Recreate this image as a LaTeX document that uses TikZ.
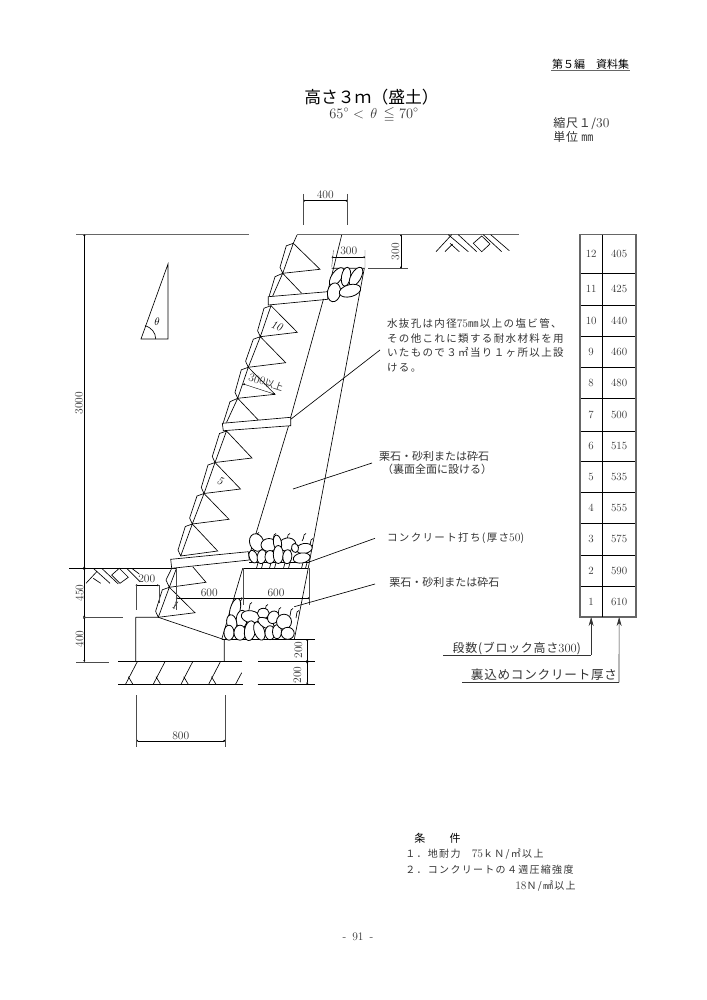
\documentclass[tikz,border=0pt]{standalone}
\usepackage{amssymb}
\usepackage{amsmath}
\usepackage{fontspec}
\newfontfamily\jp{Noto Sans CJK JP}
\newfontfamily\jps[LetterSpace=6]{Noto Sans CJK JP}
\newfontfamily\jpw[LetterSpace=13]{Noto Sans CJK JP}
\usetikzlibrary{positioning}
\usetikzlibrary{arrows.meta}
\tikzset{>={Stealth[length=9pt,width=5pt]}}
\tikzset{thick line/.style={black!60,line width=1.1pt}}
\tikzset{dimline/.style={line width=0.4pt,{Circle[length=1.8pt]}-{Circle[length=1.8pt]}}}
\tikzset{ext/.style={line width=0.4pt,black!70}}
\tikzset{ed/.style={inner sep=0pt,font=\fontsize{11.5}{12}\selectfont,text=black!80}}
\tikzset{no/.style={inner sep=0pt,rotate=-20,font=\itshape\fontsize{11.5}{12}\selectfont}}
\tikzset{note/.style={inner sep=0pt,anchor=west,align=left,text=black!80,font=\jpw\fontsize{10.5}{14.7}\selectfont}}
\tikzset{cond/.style={inner sep=0pt,anchor=west,text=black!80,font=\jpw\fontsize{10}{12}\selectfont}}
\tikzset{stone/.style={draw,fill=white,line width=0.8pt}}
\tikzset{cell/.style={draw,line width=0.5pt,inner sep=0pt,outer sep=0pt,text=black!80,font=\fontsize{11}{12}\selectfont}}
\newcommand{\dg}[1]{{\rmfamily\fontsize{11.5}{12}\selectfont #1}}

\begin{document}
\begin{tikzpicture}[x=1pt,y=-1pt,line width=0.65pt]
        \useasboundingbox (0,0) rectangle (706,1000);

        \node[inner sep=0pt,font=\jp\fontsize{11}{12}\selectfont] (part) at (590.5,64.5) {第５編　資料集};
        \coordinate (partL) at (551,70.5);
        \coordinate (partR) at (630,70.5);
        \draw[thick line,line width=0.8pt] (partL) -- (partR);

        \node[inner sep=0pt,font=\jp\fontsize{16.8}{18}\selectfont] (title) at (371.5,97.5) {高さ３ｍ（盛土）};
        \node[inner sep=0pt,font=\fontsize{14.5}{16}\selectfont,text=black!80] (range) at (374,114.5) {$65^{\circ}<\,\theta\,\leqq 70^{\circ}$};
        \node[note,font=\jps\fontsize{12}{14}\selectfont] (scale) at (553,129.5) {縮尺１/{\rmfamily\fontsize{13.5}{14}\selectfont 30}\\単位 ㎜};

        \draw[thick line] (76,234.6) -- (249,234.6);
        \draw[thick line] (297,234.6) -- (519,234.6);
        \draw[thick line,line width=0.7pt,black] (69.3,568.3) -- (176.7,568.3);

        \draw (436,251.7) -- (451.7,234.7) (445,251.7) -- (452.7,244) (448.3,234.7) -- (468.3,251.7) (450,243.3) -- (459.3,251.7);
        \draw (458.3,234.7) -- (476.7,251.7) (473.3,243.3) -- (481.7,236) -- (490,244) -- (481.7,251.7) -- cycle (483.3,234.7) -- (501.7,251.7) (490.7,234.7) -- (509.3,250.7);

        \draw (96.7,571.7) -- (86,583.3) (93.3,578.3) -- (100.7,583.3) (93.3,568.3) -- (110,583.3) (101.7,568.3) -- (118.3,584);
        \draw (119.3,568.3) -- (128.3,577.3) -- (120,583.3) -- (111.7,575) -- cycle (126.7,568.3) -- (140,581.7) (131.7,568.3) -- (139.3,574);

        \draw (168,264) -- (168,339) -- (141,339) -- cycle;
        \draw (145,325.5) to[out=-20,in=90] (155.7,339);
        \node[inner sep=0pt,font=\fontsize{11}{12}\selectfont] (theta) at (157,322) {$\theta$};

        \foreach \tx/\ty/\px/\py/\qx/\qy in {
                293.3/243.3/282.7/273.3/320/269.3,
                271/305.7/260.3/336.7/297.3/332.3,
                260.3/336.7/248.3/367.3/285.7/362.7,
                248.3/367.3/237.7/398.3/275/394.3,
                226.5/431/215/462.5/252/458,
                215/462.5/204/493.5/240.5/489,
                204/493.5/192.3/524/229/519.3,
                192.3/524/180.7/556/217.7/551,
                169.3/587.3/158.3/617.3/195/612.7} {
                \draw (\tx,\ty) -- ++(-7,2.5) -- ({\px-2.7},{\py-6}) -- (\px,\py) -- (\qx,\qy) -- (\tx,\ty) -- (\px,\py);
        }

        \draw (297,235) -- (293.3,243.3);
        \draw (282.7,273.3) -- (275,276.7) -- (269,296.7) (282.7,273.3) -- (272.5,296.4) (282.7,273.3) -- (301.7,293.3);
        \draw (237.7,398.3) -- (230,401.7) -- (223.3,422.7) (237.7,398.3) -- (226.5,422.5) (237.7,398.3) -- (258.3,420);
        \draw (171.7,568.3) -- (166,580) -- (169.3,587.3) -- (206,582.3) -- (192.7,566.7) (176.7,567.8) -- (169.3,587.3);

        \draw[fill=white] (268.3,296.7) -- (327.7,291.7) -- (327.7,299.3) -- (268.3,305) -- cycle;
        \draw[fill=white] (222.3,423.3) -- (290.7,417.3) -- (290.7,425.7) -- (223.3,430.7) -- cycle;
        \draw[fill=white] (170.7,559.3) -- (248.3,551.7) -- (249.3,560) -- (171.7,568.3) -- cycle;

        \node[no] (no10) at (276.7,325.7) {10};
        \node[no] (no5) at (220,481) {5};
        \node[no] (no1) at (175,605) {1};

        \draw (341.7,235) -- (327.7,291.7) (323.5,299) -- (290.7,417.3) (288.5,426) -- (250.5,551.7) (242.7,568.3) -- (221.7,639.3);
        \draw (331.7,268.3) -- (364.3,268.3) -- (308.3,568) -- (294.3,639.3);
        \draw (249.3,562.7) -- (309.3,562.7) (242.7,568.3) -- (308.3,568.3);
        \draw (221.7,639.3) -- (315,639.3);

        \foreach \sx/\sy/\rx/\ry/\ang in {
                336.7/276.7/10.5/5/55, 346/276.7/9.5/4.5/80, 356/276.7/10.5/5/60,
                334/292.3/9.5/6.5/80, 350/290.7/11/6/15} {
                \draw[stone] (\sx,\sy) ellipse[x radius=\rx,y radius=\ry,rotate=\ang];
        }

        \foreach \sx/\sy in {257/534,274/535,288/535,304/535,311/540} {
                \draw (\sx,\sy) to[bend left=15] ++(-2,6) (\sx,\sy) -- ++(2,-1.5);
        }
        \foreach \sx/\sy/\rx/\ry/\ang in {
                256.7/542.5/9/7/110, 269/545/8/6.5/0, 287.3/544.5/8.5/6.5/10, 304.3/548.5/8/5/10, 295/548/4.5/3.5/100,
                277.5/543/8/4/100, 253.3/556.7/6.5/4/110, 261.7/556.7/7/4.5/80, 270/557/6.5/5/90, 278.3/554.5/9/5/90,
                287.3/556.7/7/4.5/85, 301.7/558/8.5/5/10} {
                \draw[stone] (\sx,\sy) ellipse[x radius=\rx,y radius=\ry,rotate=\ang];
        }

        \foreach \sx in {258,263,271,276,285,290,303,307} {
                \draw (\sx,562.7) -- ({\sx-1.5},568.3);
        }

        \foreach \sx/\sy in {240/601,250/604,266/606,279/609,291/610,297/612} {
                \draw (\sx,\sy) to[bend left=15] ++(-1,6) (\sx,\sy) -- ++(2,-1.5);
        }
        \foreach \sx/\sy/\rx/\ry/\ang in {
                235/610/12/5/75, 241.7/619.3/9/5.5/85, 231.7/622.7/8/5/100, 229/632.7/7.5/5/90, 240/632.7/7.5/6/90,
                250.7/616.7/9.5/6/-10, 250/630.7/10/5.5/80, 259.3/631/9.5/5/110, 263.3/613.3/6/5/0, 266/623.3/9/4.5/-30,
                270/632.7/7/5/90, 277/631.7/7/4.5/90, 273.3/617.3/6.5/5.5/60, 284/621.7/7.5/7.5/0, 287.7/633.3/6.5/6/0} {
                \draw[stone] (\sx,\sy) ellipse[x radius=\rx,y radius=\ry,rotate=\ang];
        }

        \draw (135.7,617.3) -- (158.3,617.3) -- (223.3,639.3) (135.7,617.3) -- (135.7,661.7) (224.3,639.3) -- (224.3,661.7);
        \draw (118.3,661.7) -- (241.7,661.7) (258.3,661.7) -- (315,661.7);
        \draw (118.3,684) -- (242.7,684) (257.7,684) -- (315,684);
        \foreach \i in {0,1,2,3} {
                \draw ({137.3+27.7*\i},661.7) -- ({125.7+27.7*\i},684) ({128.3+27.7*\i},676.7) -- ({132.7+27.7*\i},684);
        }
        \draw (241.7,672.7) -- (235.7,684);

        \draw[dimline] (84.3,234.6) -- (84.3,568.3);
        \draw[dimline] (84.3,568.3) -- (84.3,617.3);
        \draw[dimline] (84.3,617.3) -- (84.3,661.7);
        \draw[ext] (83,617.3) -- (123.3,617.3) (76,661.7) -- (109.3,661.7);
        \node[ed,rotate=90] (h3000) at (79,403) {3000};
        \node[ed,rotate=90] (h450) at (79.5,593) {450};
        \node[ed,rotate=90] (h400) at (79.5,639) {400};

        \draw[dimline] (303.3,200.7) -- (347.3,200.7);
        \draw[ext] (303.3,194) -- (303.3,225) (347.3,194) -- (347.3,225);
        \node[ed] (t400) at (325.3,195) {400};

        \draw[dimline] (331.7,257.3) -- (365,257.3);
        \draw[ext] (333.5,250) -- (331.7,267) (365,250) -- (365,268);
        \node[ed] (t300) at (348.8,251) {300};

        \draw[ext] (368.3,268.3) -- (408.3,268.3);
        \draw[dimline] (401,234.6) -- (401,268.3);
        \node[ed,rotate=90] (h300) at (395.5,251.7) {300};

        \draw[dimline] (243.3,384) -- (275,394.3);
        \node[ed,rotate=-18,font=\jp\fontsize{9.5}{10}\selectfont] (min300) at (266,382.5) {\dg{300}以上};

        \draw[dimline] (135.7,585.3) -- (158.7,585.3);
        \draw[ext] (135.7,585.3) -- (135.7,610) (158.7,585.3) -- (158.7,603);
        \node[ed] (w200) at (146.7,578.7) {200};

        \draw[dimline] (176,598.3) -- (242.7,598.3);
        \draw[dimline] (242.7,598.3) -- (309.3,598.3);
        \draw[ext] (176,568.3) -- (176,610) (242.7,568.3) -- (242.7,605) (309.3,568.3) -- (309.3,605);
        \draw[ext] (176.5,600) -- (173.5,609);
        \node[ed] (w600a) at (209.3,592.5) {600};
        \node[ed] (w600b) at (276,593) {600};

        \draw[dimline] (307.3,639.3) -- (307.3,661.7);
        \draw[dimline] (307.3,661.7) -- (307.3,684);
        \node[ed,rotate=90] (h200a) at (298.3,650) {200};
        \node[ed,rotate=90] (h200b) at (297.3,675) {200};

        \draw[dimline] (136.3,740.7) -- (225.3,740.7);
        \draw[ext] (136.3,695) -- (136.3,747) (225.3,695) -- (225.3,747);
        \node[ed] (w800) at (180.7,735.5) {800};

        \node[note] (pipe) at (386.7,345.5) {水抜孔は内径\dg{75}㎜以上の塩ビ管、\\その他これに類する耐水材料を用\\いたもので３㎡当り１ヶ所以上設\\ける。};
        \coordinate (pipeA) at (290.7,419.3);
        \coordinate (pipeB) at (380,350);
        \draw (pipeA) -- (pipeB);

        \node[note,font=\jp\fontsize{11}{13.3}\selectfont] (fill) at (378.7,462.7) {栗石・砂利または砕石\\\hspace{3pt}（裏面全面に設ける）};
        \coordinate (fillA) at (293,489);
        \coordinate (fillB) at (372,463);
        \draw (fillA) -- (fillB);

        \node[note] (conc) at (386.7,537.7) {コンクリート打ち(厚さ\dg{50})};
        \coordinate (concA) at (308.3,562.3);
        \coordinate (concB) at (375,538.3);
        \draw (concA) -- (concB);

        \node[note,font=\jp\fontsize{11}{13.3}\selectfont] (grav) at (389,582.7) {栗石・砂利または砕石};
        \coordinate (gravA) at (294.3,606.7);
        \coordinate (gravB) at (375,584);
        \draw (gravA) -- (gravB);

        \foreach \n/\v/\t/\b in {12/405/234.7/273.3,11/425/273.3/305,10/440/305/336.3,9/460/336.3/367.3,8/480/367.3/398.3,7/500/398.3/431,
                6/515/431/461.3,5/535/461.3/492.3,4/555/492.3/523.7,3/575/523.7/555,2/590/555/586,1/610/586/617} {
                \node[cell,minimum width=22.3pt,minimum height={(\b-\t)*1pt}] (rowA\n) at (591.15,{(\t+\b)/2}) {\n};
                \node[cell,minimum width=33.7pt,minimum height={(\b-\t)*1pt},right=0pt of rowA\n] (rowB\n) {\v};
        }
        \draw[thick line] (rowA12.north west) rectangle (rowB1.south east);
        \draw[line width=0.6pt] (rowA12.north east) -- (rowA1.south east);

        \node[inner sep=0pt,text=black!80,font=\jps\fontsize{12}{14}\selectfont] (steps) at (516.7,649) {段数(ブロック高さ{\rmfamily\fontsize{12.5}{14}\selectfont 300})};
        \coordinate (stepsL) at (443.3,655);
        \coordinate (stepsR) at (591.15,655);
        \draw[black!80] (stepsL) -- (stepsR);
        \draw[->,black!80] (stepsR) -- (rowA1.south);

        \node[inner sep=0pt,text=black!80,font=\jps\fontsize{12.6}{14}\selectfont] (back) at (544,674.5) {裏込めコンクリート厚さ};
        \coordinate (backL) at (462.3,682.3);
        \coordinate (backR) at (619,682.3);
        \draw[black!80] (backL) -- (backR);
        \draw[->,black!80] (backR) -- (rowB1.south);

        \node[inner sep=0pt,font=\jp\fontsize{11}{12}\selectfont] (condhead) at (437.5,838) {条\hspace{2.2em}件};
        \node[cond] (c1) at (405,854) {１．地耐力　\dg{75}ｋＮ/㎡以上};
        \node[cond] (c2) at (405,869.7) {２．コンクリートの４週圧縮強度};
        \node[cond,anchor=east] (c3) at (576,885.7) {\dg{18}Ｎ/㎟以上};

        \node[ed] (page) at (358,936.7) {-\hspace{6pt}91\hspace{6pt}-};
    \end{tikzpicture}
\end{document}
